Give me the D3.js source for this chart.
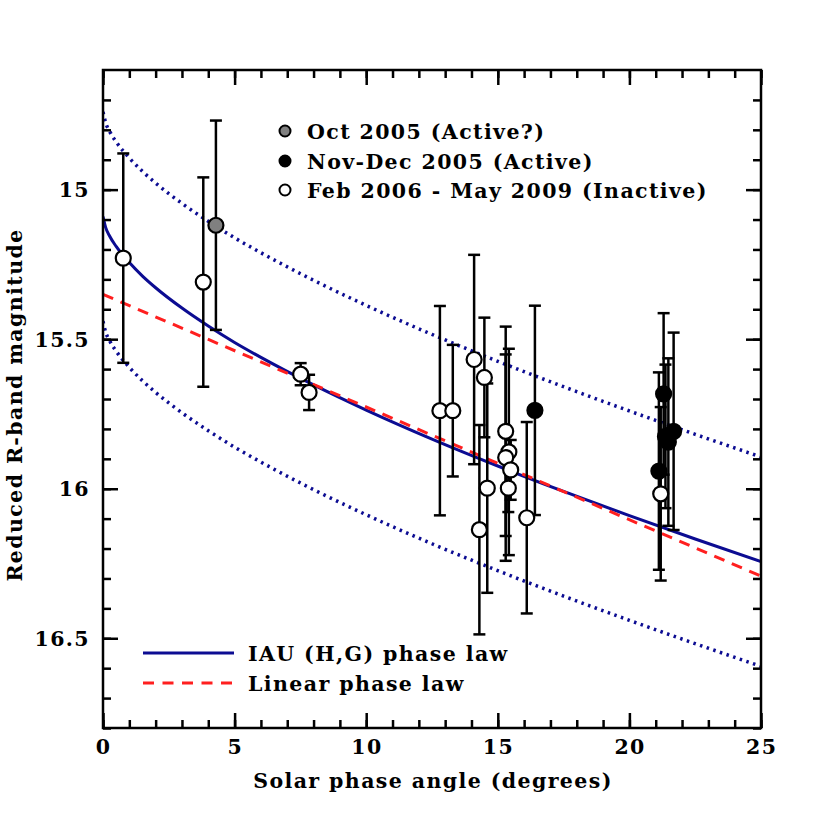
<!DOCTYPE html>
<html>
<head>
<meta charset="utf-8">
<script src="https://cdn.jsdelivr.net/npm/d3@7"></script>
<style>
  html, body { margin: 0; padding: 0; background: #fff; }
  svg text { font-family: "DejaVu Serif", "Liberation Serif", serif; font-weight: bold; fill: #000; letter-spacing: 1.4px; }
</style>
</head>
<body>
<svg id="chart" width="830" height="830"></svg>
<script>
// ---------------- DATA ----------------
// Observations: phase angle (deg), reduced R magnitude, 1-sigma error, group
const obsAngle = [0.77, 3.81, 4.29, 7.51, 7.83, 12.80, 13.29, 14.10, 14.30, 14.49, 14.60,
                  15.30, 15.42, 15.30, 15.49, 15.40, 16.41, 16.10,
                  21.30, 21.68, 21.48, 21.37, 21.12, 21.19];
const obsMag   = [15.229, 15.309, 15.119, 15.617, 15.678, 15.739, 15.739, 15.568, 16.137, 15.628, 15.998,
                  15.808, 15.877, 15.896, 15.937, 15.998, 15.738, 16.097,
                  15.683, 15.808, 15.844, 15.825, 15.941, 16.017];
const obsErr   = [0.35, 0.35, 0.35, 0.037, 0.059, 0.35, 0.22, 0.35, 0.35, 0.20, 0.35,
                  0.35, 0.345, 0.345, 0.10, 0.08, 0.35, 0.32,
                  0.27, 0.33, 0.28, 0.24, 0.33, 0.29];
// 0 = Oct 2005 (Active?), 1 = Nov-Dec 2005 (Active), 2 = Feb 2006 - May 2009 (Inactive)
const obsGroup = [2, 2, 0, 2, 2, 2, 2, 2, 2, 2, 2,
                  2, 2, 2, 2, 2, 1, 2,
                  1, 1, 1, 1, 1, 2];

const groupLabels = ["Oct 2005 (Active?)", "Nov-Dec 2005 (Active)", "Feb 2006 - May 2009 (Inactive)"];
const groupFills  = ["#808080", "#000000", "#ffffff"];

// IAU (H,G) phase-law curve
const hgAngle = [0, 0.1, 0.25, 0.5, 1, 1.5, 2, 3, 4, 5, 6, 8, 10, 12.5, 15, 17.5, 20, 22.5, 25];
const hgMag   = [15.090, 15.126, 15.155, 15.190, 15.244, 15.289, 15.328, 15.396, 15.456, 15.511,
                 15.561, 15.653, 15.737, 15.834, 15.924, 16.009, 16.090, 16.168, 16.244];
// dotted envelopes (upper / lower)
const upperMag = [14.740, 14.776, 14.805, 14.840, 14.894, 14.939, 14.978, 15.046, 15.106, 15.161,
                  15.211, 15.303, 15.387, 15.484, 15.574, 15.659, 15.740, 15.818, 15.894];
const lowerMag = [15.440, 15.476, 15.505, 15.540, 15.594, 15.639, 15.678, 15.746, 15.806, 15.861,
                  15.911, 16.003, 16.087, 16.184, 16.274, 16.359, 16.440, 16.518, 16.594];
// linear phase law end points
const linAngle = [0, 25];
const linMag   = [15.350, 16.292];

const xTickLabels = [0, 5, 10, 15, 20, 25];
const yTickLabels = [15, 15.5, 16, 16.5];
const curveLabels = ["IAU (H,G) phase law", "Linear phase law"];

// ---------------- LAYOUT ----------------
const svg = d3.select("#chart");
const L = 103, T = 70, W = 658, H = 658;
const x = d3.scaleLinear().domain([0, 25]).range([L, L + W]);
const y = d3.scaleLinear().domain([14.6, 16.8]).range([T, T + H]);

const BLUE = "#0c0c92", RED = "#ff1f1f";

svg.append("defs").append("clipPath").attr("id", "plotclip")
  .append("rect").attr("x", L).attr("y", T).attr("width", W).attr("height", H);

const plot = svg.append("g").attr("clip-path", "url(#plotclip)");

const line = d3.line().curve(d3.curveMonotoneX);

// dotted envelopes
[upperMag, lowerMag].forEach(arr => {
  plot.append("path")
    .attr("d", line(hgAngle.map((a, i) => [x(a), y(arr[i])])))
    .attr("fill", "none").attr("stroke", BLUE).attr("stroke-width", 3.5)
    .attr("stroke-dasharray", "2.5,4.5");
});
// IAU curve
plot.append("path")
  .attr("d", line(hgAngle.map((a, i) => [x(a), y(hgMag[i])])))
  .attr("fill", "none").attr("stroke", BLUE).attr("stroke-width", 3);
// linear law
plot.append("path")
  .attr("d", d3.line()(linAngle.map((a, i) => [x(a), y(linMag[i])])))
  .attr("fill", "none").attr("stroke", RED).attr("stroke-width", 3)
  .attr("stroke-dasharray", "11,8");

// error bars
const capW = 6;
const eb = plot.append("g").attr("stroke", "#000").attr("stroke-width", 2.5);
obsAngle.forEach((a, i) => {
  const cx = x(a), y1 = y(obsMag[i] - obsErr[i]), y2 = y(obsMag[i] + obsErr[i]);
  eb.append("line").attr("x1", cx).attr("x2", cx).attr("y1", y1).attr("y2", y2);
  eb.append("line").attr("x1", cx - capW).attr("x2", cx + capW).attr("y1", y1).attr("y2", y1);
  eb.append("line").attr("x1", cx - capW).attr("x2", cx + capW).attr("y1", y2).attr("y2", y2);
});
// points
plot.append("g").selectAll("circle").data(obsAngle).join("circle")
  .attr("cx", d => x(d))
  .attr("cy", (d, i) => y(obsMag[i]))
  .attr("r", 7.5)
  .attr("fill", (d, i) => groupFills[obsGroup[i]])
  .attr("stroke", "#000").attr("stroke-width", 2.2);

// ---------------- AXES ----------------
function ticks(axisGen, transform, major, minor) {
  const g = svg.append("g").attr("transform", transform);
  g.call(axisGen.tickValues(minor).tickSize(-8).tickFormat(""));
  g.select(".domain").remove();
  g.selectAll("line").attr("stroke", "#000").attr("stroke-width", 2.5);
  const g2 = svg.append("g").attr("transform", transform);
  g2.call(axisGen.tickValues(major).tickSize(-15).tickFormat(""));
  g2.select(".domain").remove();
  g2.selectAll("line").attr("stroke", "#000").attr("stroke-width", 2.5);
}
const xMinor = d3.range(0, 26, 1), xMajor = d3.range(0, 26, 5);
const yMinor = d3.range(14.7, 16.8, 0.1).map(v => +v.toFixed(1)), yMajor = [15, 15.5, 16, 16.5];

ticks(d3.axisBottom(x), `translate(0,${T + H})`, xMajor, xMinor);
ticks(d3.axisTop(x), `translate(0,${T})`, xMajor, xMinor);
ticks(d3.axisLeft(y), `translate(${L},0)`, yMajor, yMinor);
ticks(d3.axisRight(y), `translate(${L + W},0)`, yMajor, yMinor);

// frame
svg.append("rect").attr("x", L).attr("y", T).attr("width", W).attr("height", H)
  .attr("fill", "none").attr("stroke", "#000").attr("stroke-width", 2.5);

// tick labels
svg.append("g").selectAll("text").data(xTickLabels).join("text")
  .attr("x", d => x(d) + 0.7).attr("y", T + H + 26)
  .attr("text-anchor", "middle").attr("font-size", 20.5).text(d => d);
svg.append("g").selectAll("text").data(yTickLabels).join("text")
  .attr("x", L - 13).attr("y", d => y(d) + 7.5)
  .attr("text-anchor", "end").attr("font-size", 20.5).text(d => d);

// axis titles
svg.append("text").attr("x", L + W / 2 + 1).attr("y", 788)
  .attr("text-anchor", "middle").attr("font-size", 20.5).text("Solar phase angle (degrees)");
svg.append("text").attr("transform", `translate(22,${T + H / 2 + 6}) rotate(-90)`)
  .attr("text-anchor", "middle").attr("font-size", 20.5).text("Reduced R-band magnitude");

// ---------------- LEGENDS ----------------
const legY = [131, 161, 190];
groupLabels.forEach((lab, i) => {
  svg.append("circle").attr("cx", 285).attr("cy", legY[i]).attr("r", 5.5)
    .attr("fill", groupFills[i]).attr("stroke", "#000").attr("stroke-width", 2);
  svg.append("text").attr("x", 307).attr("y", legY[i] + 7.5).attr("font-size", 20.5).text(lab);
});

const lineLegY = [653, 683];
svg.append("line").attr("x1", 143).attr("x2", 234).attr("y1", lineLegY[0]).attr("y2", lineLegY[0])
  .attr("stroke", BLUE).attr("stroke-width", 3);
svg.append("line").attr("x1", 143).attr("x2", 234).attr("y1", lineLegY[1]).attr("y2", lineLegY[1])
  .attr("stroke", RED).attr("stroke-width", 3).attr("stroke-dasharray", "11,8.5");
curveLabels.forEach((lab, i) => {
  svg.append("text").attr("x", 248).attr("y", lineLegY[i] + 8).attr("font-size", 20.5).text(lab);
});
</script>
</body>
</html>
